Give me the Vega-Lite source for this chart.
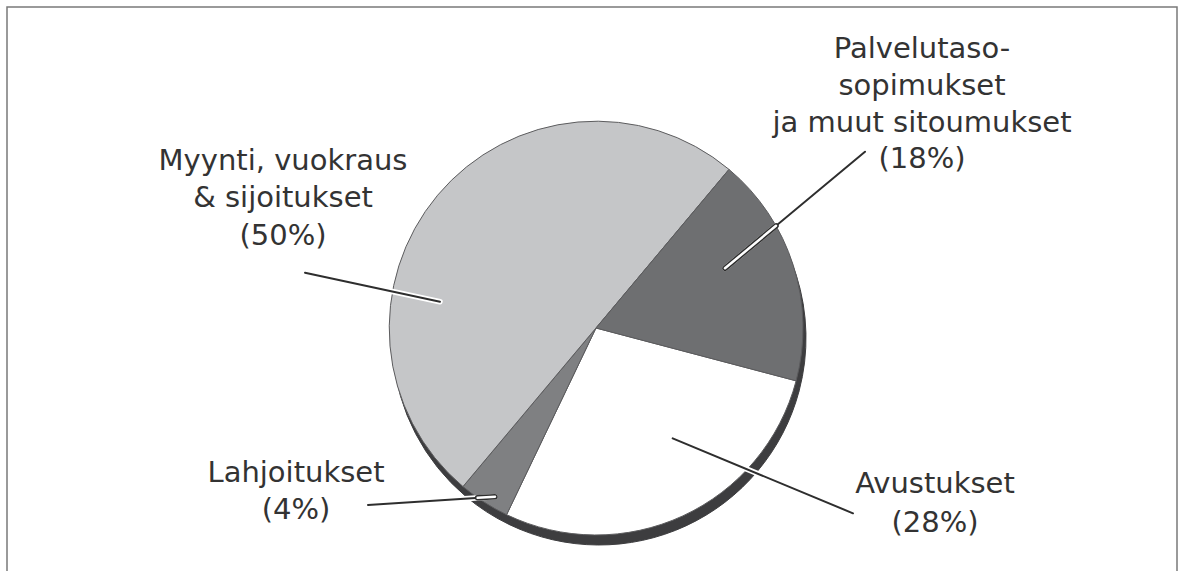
{
  "$schema": "https://vega.github.io/schema/vega-lite/v6.json",
  "width": 1179,
  "height": 571,
  "autosize": {"type": "fit", "contains": "padding"},
  "padding": {"left": 7, "top": 7, "right": 2, "bottom": -3},
  "background": "white",
  "config": {
    "view": {"stroke": "#7a7a7a", "strokeWidth": 1.5},
    "text": {"font": "DejaVu Sans"}
  },
  "data": {
    "values": [
      {"category": "Avustukset", "share": 28, "label": "Avustukset\n(28%)"},
      {"category": "Lahjoitukset", "share": 4, "label": "Lahjoitukset\n(4%)"},
      {"category": "Myynti, vuokraus & sijoitukset", "share": 50, "label": "Myynti, vuokraus\n& sijoitukset\n(50%)"},
      {"category": "Palvelutasosopimukset ja muut sitoumukset", "share": 18, "label": "Palvelutaso-\nsopimukset\nja muut sitoumukset\n(18%)"}
    ]
  },
  "layer": [
    {
      "mark": {"type": "arc", "outerRadius": 207, "fill": "#3d3d3f", "stroke": "#3d3d3f", "strokeWidth": 1},
      "encoding": {
        "theta": {"field": "share", "type": "quantitative", "stack": true, "scale": {"range": [1.829, 8.112]}},
        "x": {"datum": 0.0145, "type": "quantitative", "scale": {"domain": [-2.8454, 2.8068], "nice": false, "zero": false}, "axis": null},
        "y": {"datum": -0.0483, "type": "quantitative", "scale": {"domain": [-1.1884, 1.5507], "nice": false, "zero": false}, "axis": null}
      }
    },
    {
      "mark": {"type": "arc", "outerRadius": 207, "stroke": "#5c5c5e", "strokeWidth": 1},
      "encoding": {
        "theta": {"field": "share", "type": "quantitative", "stack": true, "scale": {"range": [1.829, 8.112]}},
        "color": {
          "field": "category",
          "type": "nominal",
          "scale": {
            "domain": ["Avustukset", "Lahjoitukset", "Myynti, vuokraus & sijoitukset", "Palvelutasosopimukset ja muut sitoumukset"],
            "range": ["#ffffff", "#7f8082", "#c5c6c8", "#6e6f71"]
          },
          "legend": null
        },
        "x": {"datum": 0, "type": "quantitative"},
        "y": {"datum": 0, "type": "quantitative"}
      }
    },
    {
      "transform": [{"filter": "datum.category === 'Myynti, vuokraus & sijoitukset'"}],
      "layer": [
        {
          "mark": {"type": "rule", "stroke": "white", "strokeWidth": 5.5, "strokeCap": "round"},
          "encoding": {
            "x": {"datum": -1.4058, "type": "quantitative"}, "y": {"datum": 0.2671, "type": "quantitative"},
            "x2": {"datum": -0.7536}, "y2": {"datum": 0.1271}
          }
        },
        {
          "mark": {"type": "rule", "stroke": "#2e2e2e", "strokeWidth": 2, "strokeCap": "round"},
          "encoding": {
            "x": {"datum": -1.4058, "type": "quantitative"}, "y": {"datum": 0.2671, "type": "quantitative"},
            "x2": {"datum": -0.7536}, "y2": {"datum": 0.1271}
          }
        },
        {
          "mark": {"type": "text", "fontSize": 29, "align": "center", "baseline": "alphabetic", "lineHeight": 37.5, "lineBreak": "\n", "fill": "#333333"},
          "encoding": {
            "x": {"datum": -1.5121, "type": "quantitative"}, "y": {"datum": 0.7633, "type": "quantitative"},
            "text": {"field": "label"}
          }
        }
      ]
    },
    {
      "transform": [{"filter": "datum.category === 'Palvelutasosopimukset ja muut sitoumukset'"}],
      "layer": [
        {
          "mark": {"type": "rule", "stroke": "white", "strokeWidth": 5.5, "strokeCap": "round"},
          "encoding": {
            "x": {"datum": 1.2995, "type": "quantitative"}, "y": {"datum": 0.8517, "type": "quantitative"},
            "x2": {"datum": 0.6232}, "y2": {"datum": 0.2884}
          }
        },
        {
          "mark": {"type": "rule", "stroke": "#2e2e2e", "strokeWidth": 2, "strokeCap": "round"},
          "encoding": {
            "x": {"datum": 1.2995, "type": "quantitative"}, "y": {"datum": 0.8517, "type": "quantitative"},
            "x2": {"datum": 0.6232}, "y2": {"datum": 0.2884}
          }
        },
        {
          "mark": {"type": "rule", "stroke": "#2e2e2e", "strokeWidth": 5.5, "strokeCap": "round"},
          "encoding": {
            "x": {"datum": 0.8696, "type": "quantitative"}, "y": {"datum": 0.4937, "type": "quantitative"},
            "x2": {"datum": 0.6232}, "y2": {"datum": 0.2884}
          }
        },
        {
          "mark": {"type": "rule", "stroke": "white", "strokeWidth": 2.5, "strokeCap": "round"},
          "encoding": {
            "x": {"datum": 0.8696, "type": "quantitative"}, "y": {"datum": 0.4937, "type": "quantitative"},
            "x2": {"datum": 0.6232}, "y2": {"datum": 0.2884}
          }
        },
        {
          "mark": {"type": "text", "fontSize": 29, "align": "center", "baseline": "alphabetic", "lineHeight": 36.7, "lineBreak": "\n", "fill": "#333333"},
          "encoding": {
            "x": {"datum": 1.5749, "type": "quantitative"}, "y": {"datum": 1.3029, "type": "quantitative"},
            "text": {"field": "label"}
          }
        }
      ]
    },
    {
      "transform": [{"filter": "datum.category === 'Avustukset'"}],
      "layer": [
        {
          "mark": {"type": "rule", "stroke": "white", "strokeWidth": 5.5, "strokeCap": "round"},
          "encoding": {
            "x": {"datum": 1.2415, "type": "quantitative"}, "y": {"datum": -0.8952, "type": "quantitative"},
            "x2": {"datum": 0.3705}, "y2": {"datum": -0.5329}
          }
        },
        {
          "mark": {"type": "rule", "stroke": "#2e2e2e", "strokeWidth": 2, "strokeCap": "round"},
          "encoding": {
            "x": {"datum": 1.2415, "type": "quantitative"}, "y": {"datum": -0.8952, "type": "quantitative"},
            "x2": {"datum": 0.3705}, "y2": {"datum": -0.5329}
          }
        },
        {
          "mark": {"type": "text", "fontSize": 29, "align": "center", "baseline": "alphabetic", "lineHeight": 38.5, "lineBreak": "\n", "fill": "#333333"},
          "encoding": {
            "x": {"datum": 1.6377, "type": "quantitative"}, "y": {"datum": -0.7971, "type": "quantitative"},
            "text": {"field": "label"}
          }
        }
      ]
    },
    {
      "transform": [{"filter": "datum.category === 'Lahjoitukset'"}],
      "layer": [
        {
          "mark": {"type": "rule", "stroke": "white", "strokeWidth": 5.5, "strokeCap": "round"},
          "encoding": {
            "x": {"datum": -1.1014, "type": "quantitative"}, "y": {"datum": -0.8551, "type": "quantitative"},
            "x2": {"datum": -0.4879}, "y2": {"datum": -0.815}
          }
        },
        {
          "mark": {"type": "rule", "stroke": "#2e2e2e", "strokeWidth": 2, "strokeCap": "round"},
          "encoding": {
            "x": {"datum": -1.1014, "type": "quantitative"}, "y": {"datum": -0.8551, "type": "quantitative"},
            "x2": {"datum": -0.4879}, "y2": {"datum": -0.815}
          }
        },
        {
          "mark": {"type": "rule", "stroke": "#2e2e2e", "strokeWidth": 5.5, "strokeCap": "round"},
          "encoding": {
            "x": {"datum": -0.5717, "type": "quantitative"}, "y": {"datum": -0.8205, "type": "quantitative"},
            "x2": {"datum": -0.4879}, "y2": {"datum": -0.815}
          }
        },
        {
          "mark": {"type": "rule", "stroke": "white", "strokeWidth": 2.5, "strokeCap": "round"},
          "encoding": {
            "x": {"datum": -0.5717, "type": "quantitative"}, "y": {"datum": -0.8205, "type": "quantitative"},
            "x2": {"datum": -0.4879}, "y2": {"datum": -0.815}
          }
        },
        {
          "mark": {"type": "text", "fontSize": 29, "align": "center", "baseline": "alphabetic", "lineHeight": 37.5, "lineBreak": "\n", "fill": "#333333"},
          "encoding": {
            "x": {"datum": -1.4493, "type": "quantitative"}, "y": {"datum": -0.7425, "type": "quantitative"},
            "text": {"field": "label"}
          }
        }
      ]
    }
  ]
}
